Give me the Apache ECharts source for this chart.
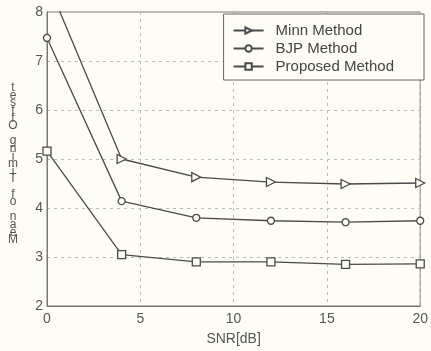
<!DOCTYPE html>
<html><head><meta charset="utf-8">
<script src="https://cdn.jsdelivr.net/npm/echarts@6/dist/echarts.min.js"></script>
<style>html,body{margin:0;padding:0;background:#fefdf5;}#c{width:431px;height:351px;}</style>
</head><body><div id="c"></div>
<script>
const snr = [0, 4, 8, 12, 16, 20];
const minn = [8.63, 5.0, 4.63, 4.53, 4.49, 4.51];
const bjp = [7.47, 4.14, 3.80, 3.74, 3.71, 3.74];
const proposed = [5.16, 3.05, 2.90, 2.90, 2.85, 2.86];
const seriesNames = ['Minn Method', 'BJP Method', 'Proposed Method'];
const yLabel = 'Mean of Timing Offset';
const xLabel = 'SNR[dB]';

const chart = echarts.init(document.getElementById('c'));
const lineCol = '#4a4a4a';
const font = 'Liberation Sans, Arial';
function mk(name, vals, sym, rot, size) {
  return {
    name: name, type: 'line', data: snr.map((x, i) => [x, vals[i]]),
    symbol: sym, symbolSize: size, symbolRotate: rot, showSymbol: true,
    clip: true,
    lineStyle: {color: lineCol, width: 1.3},
    itemStyle: {color: '#fefdf5', borderColor: lineCol, borderWidth: 1.3},
    animation: false
  };
}
const stacked = yLabel.split('').reverse().join('\n');
chart.setOption({
  backgroundColor: '#fefdf5',
  animation: false,
  grid: {left: 47, right: 6, top: 12, bottom: 45, show: true, borderColor: '#777', borderWidth: 1, backgroundColor: 'transparent'},
  legend: {
    data: seriesNames, orient: 'vertical', right: 7, top: 14,
    backgroundColor: '#fefdf5', borderColor: '#666', borderWidth: 1, padding: [9, 30, 6, 9],
    itemWidth: 30, itemHeight: 8, itemGap: 3,
    textStyle: {fontFamily: font, fontSize: 15, color: '#444', padding: [0, 0, 0, 7]}
  },
  xAxis: {
    type: 'value', min: 0, max: 20, interval: 5,
    name: xLabel, nameLocation: 'middle', nameGap: 26,
    nameTextStyle: {fontFamily: font, fontSize: 14, color: '#555'},
    axisLine: {lineStyle: {color: '#777'}},
    axisTick: {show: false},
    axisLabel: {fontFamily: font, fontSize: 14, color: '#555', margin: 6},
    splitLine: {show: true, lineStyle: {color: '#bbb', type: [3, 4]}}
  },
  yAxis: {
    type: 'value', min: 2, max: 8, interval: 1,
    axisLine: {lineStyle: {color: '#777'}},
    axisTick: {show: false},
    axisLabel: {fontFamily: font, fontSize: 14, color: '#555', margin: 4},
    splitLine: {show: true, lineStyle: {color: '#bbb', type: [3, 4]}}
  },
  graphic: [{
    type: 'text', x: 13, y: 84,
    style: {text: stacked, fontFamily: font, fontSize: 12, lineHeight: 7.6, fill: '#555', align: 'center'}
  }],
  series: [
    mk(seriesNames[0], minn, 'triangle', -90, 9),
    mk(seriesNames[1], bjp, 'circle', 0, 7),
    mk(seriesNames[2], proposed, 'rect', 0, 8)
  ]
});
</script></body></html>
